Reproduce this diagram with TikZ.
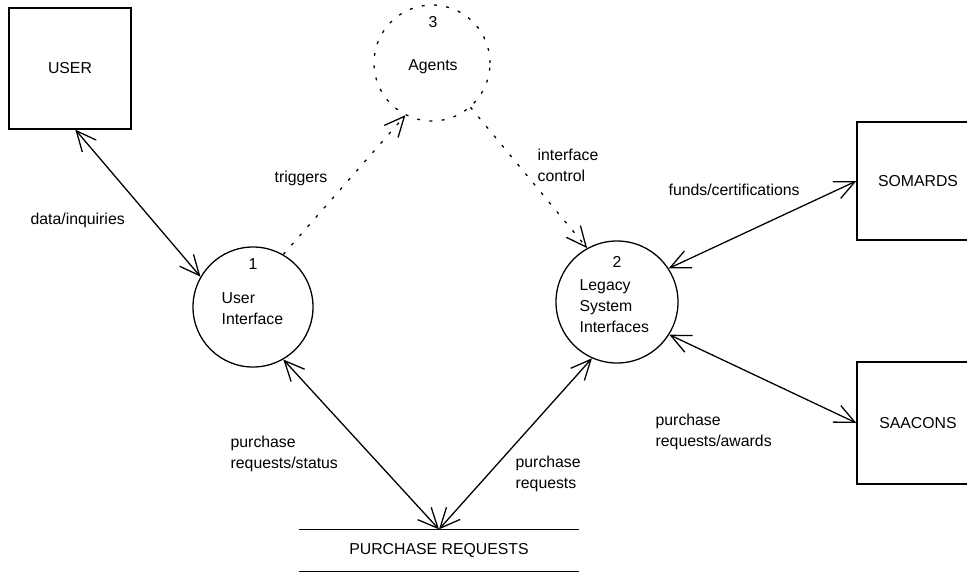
\documentclass[tikz,border=0pt]{standalone}
\usepackage{fontspec}
\setmainfont{Liberation Sans}
\usetikzlibrary{arrows.meta}

\begin{document}
\begin{tikzpicture}[x=0.03cm,y=-0.03cm,line width=1.1pt,
  every node/.style={font=\fontsize{13.5}{18}\selectfont},
  proc/.style={draw,circle,inner sep=0pt},
  term/.style={draw,rectangle,minimum width=3.66cm},
  flow/.style={{Straight Barb[length=6mm,width=5.5mm]}-{Straight Barb[length=6mm,width=5.5mm]}},
  ctrl/.style={-{Straight Barb[length=6mm,width=5.5mm]},dash pattern=on 2.5pt off 8pt},
  lbl/.style={align=left,inner sep=0pt,anchor=west}]
\useasboundingbox (0,0) rectangle (967,575);
\clip (0,0) rectangle (967,575);

% External entities
\node[term,minimum height=3.63cm] (user) at (70,68.5) {USER};
\node[term,minimum height=3.54cm] (somards) at (918,181) {SOMARDS};
\node[term,minimum height=3.66cm] (saacons) at (918,423) {SAACONS};

% Processes
\node[proc,minimum size=3.6cm] (ui) at (253,307) {};
\node at (253,264) {1};
\node[lbl] at (221,309) {User\\Interface};

\node[proc,minimum size=3.66cm] (legacy) at (617,302) {};
\node at (617,262) {2};
\node[lbl] at (579,306.5) {Legacy\\System\\Interfaces};

\node[proc,minimum size=3.48cm,dash pattern=on 2.5pt off 8pt] (agents) at (432,63) {};
\node at (433,22) {3};
\node at (433,67) {Agents};

% Data store
\node[minimum width=8.34cm,minimum height=1.23cm] (store) at (439,550.5) {PURCHASE REQUESTS};
\draw (store.north west) -- (store.north east);
\draw (store.south west) -- (store.south east);

% Data flows
\draw[flow] (user.-85) -- (ui.150);
\node[lbl] at (30,220) {data/inquiries};

\draw[ctrl] (ui.60) -- (agents.243);
\node[lbl] at (274,178) {triggers};

\draw[ctrl] (agents.-49) -- (legacy.119);
\node[lbl] at (537,165.5) {interface\\control};

\draw[flow] (legacy.33) -- (somards.west);
\node[lbl] at (668,190) {funds/certifications};

\draw[flow] (legacy.-32) -- (saacons.west);
\node[lbl] at (655,432) {purchase\\requests/awards};

\draw[flow] (ui.-60) -- (store.north);
\node[lbl] at (230,453.5) {purchase\\requests/status};

\draw[flow] (legacy.246) -- (store.north);
\node[lbl] at (515,473.5) {purchase\\requests};
\end{tikzpicture}
\end{document}
